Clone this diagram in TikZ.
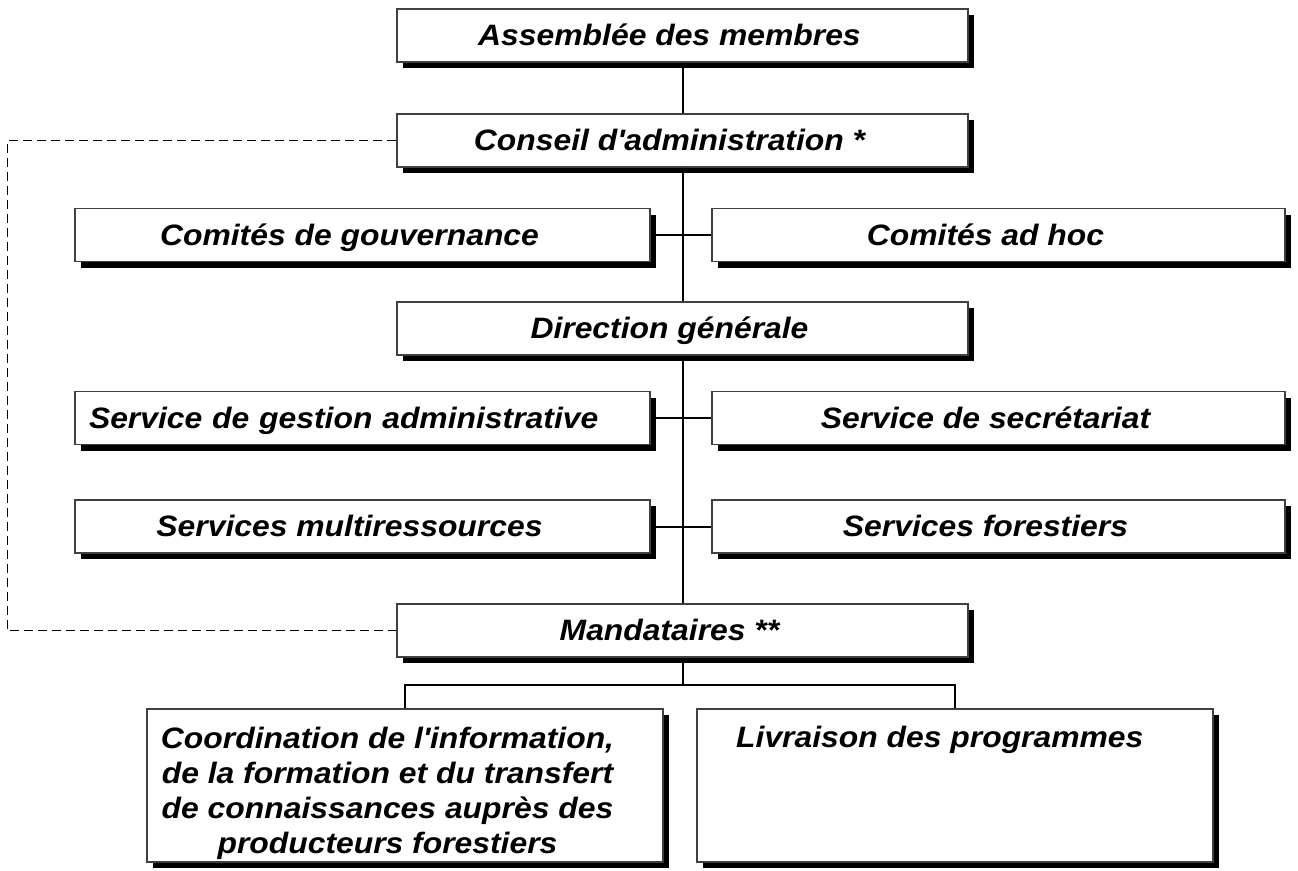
\documentclass[tikz,border=0pt]{standalone}
\usepackage{fontspec}
\setmainfont{Liberation Sans}[FakeStretch=1.08]
\usetikzlibrary{shadows}

\begin{document}
\begin{tikzpicture}[x=1pt,y=-1pt,
        unit/.style={draw=black!75, line width=1.2pt, fill=white,
            drop shadow={opacity=1, fill=black, shadow xshift=6pt, shadow yshift=-6pt},
            minimum width=571pt, minimum height=53pt, inner sep=6pt,
            text height=20.5pt, text depth=0pt,
            font=\bfseries\itshape\fontsize{29.5}{35}\selectfont,
            execute at end node={\kern26pt}},
        side/.style={unit, minimum width=575pt},
        lbl/.style={inner sep=0pt, font=\bfseries\itshape\fontsize{29.5}{35}\selectfont},
        link/.style={line width=2pt},
        dashline/.style={line width=1.5pt, dash pattern=on 9pt off 5pt}]
        \useasboundingbox (0,0) rectangle (1298,870);

        % central column
        \node[unit] (assem) at (682.5,35.5) {Assemblée des membres};
        \node[unit] (conseil) at (682.5,140.5) {Conseil d\textquotesingle administration *};
        \node[unit] (direction) at (682.5,328.5) {Direction générale};
        \node[unit] (mand) at (682.5,630.5) {Mandataires **};

        % side boxes
        \node[side] (gouv) at (362.5,235) {Comités de gouvernance};
        \node[side, minimum width=573pt] (adhoc) at (998.5,235) {Comités ad hoc};
        \node[side, inner xsep=14pt, text width=547pt, align=left] (gestion) at (362.5,418) {Service de gestion administrative};
        \node[side, minimum width=573pt] (secret) at (998.5,418) {Service de secrétariat};
        \node[side] (multi) at (362.5,526.5) {Services multiressources};
        \node[side, minimum width=573pt] (forest) at (998.5,526.5) {Services forestiers};

        % bottom boxes
        \node[unit, minimum width=516pt, minimum height=153pt] (coord) at (405,785.5) {};
        \node[lbl, anchor=north, align=center] (coordtxt) at (387.5,726.5) {Coordination de l\textquotesingle information,\\de la formation et du transfert\\de connaissances auprès des\\producteurs forestiers};
        \node[unit, minimum width=516pt, minimum height=153pt] (livr) at (955,785.5) {};
        \node[lbl, anchor=base west] (livrtxt) at (736,747) {Livraison des programmes};

        \draw[link] (assem) -- (conseil);
        \draw[link] (conseil) -- (direction);
        \draw[link] (direction) -- (mand);
        \draw[link] (gouv) -- (adhoc);
        \draw[link] (gestion) -- (secret);
        \draw[link] (multi) -- (forest);
        \coordinate (split) at (682.5,685);
        \draw[link] (mand) -- (split);
        \draw[link] (coord.north) |- (split) -| (livr.north);
        \draw[dashline] (conseil.west) -- ++(-389,0) |- (mand.west);
        \end{tikzpicture}
\end{document}
